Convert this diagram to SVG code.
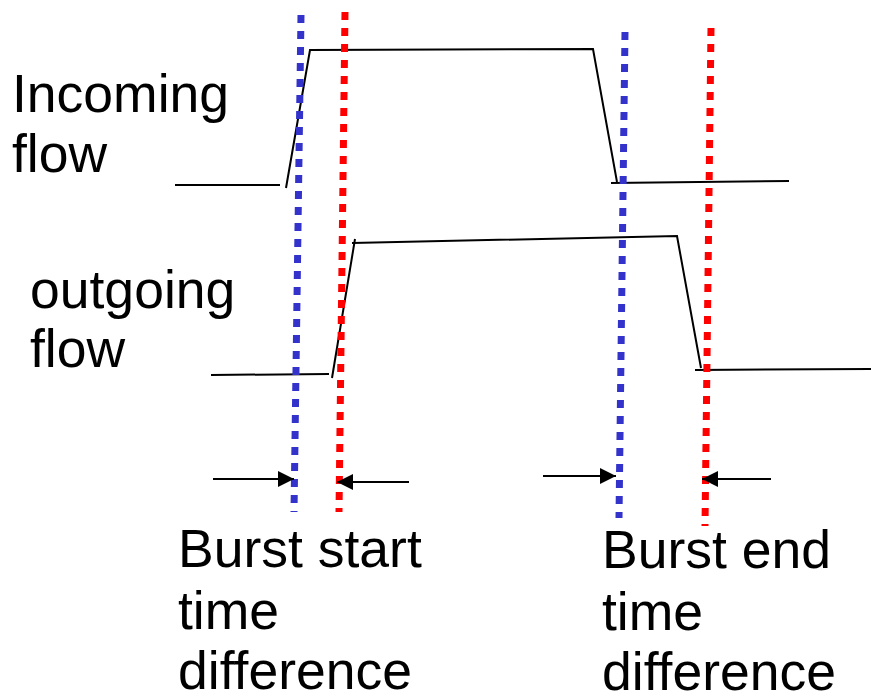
<svg xmlns="http://www.w3.org/2000/svg" width="871" height="698" viewBox="0 0 871 698">
<defs>
<style>
.t{font-family:"Liberation Sans",Arial,sans-serif;font-size:53.5px;fill:#000}
.w{fill:none;stroke:#000;stroke-width:2}
.b{stroke:#3333cc;stroke-width:7;stroke-dasharray:8 8;fill:none}
.r{stroke:#ff0000;stroke-width:7;stroke-dasharray:8 8;fill:none}
.a{stroke:#000;stroke-width:2;fill:none;marker-end:url(#ah)}
</style>
<marker id="ah" viewBox="0 0 16 16" refX="16" refY="8" markerWidth="16" markerHeight="16" markerUnits="userSpaceOnUse" orient="auto">
<path d="M0,0 L16,8 L0,16 Z" fill="#000"/>
</marker>
</defs>
<g id="incoming-label"><text class="t" x="12" y="112">Incoming</text><text class="t" x="12" y="172">flow</text></g>
<g id="outgoing-label"><text class="t" x="30" y="308">outgoing</text><text class="t" x="30" y="367">flow</text></g>
<g id="start-label"><text class="t" x="178" y="567">Burst start</text><text class="t" x="178" y="629">time</text><text class="t" x="178" y="689">difference</text></g>
<g id="end-label"><text class="t" x="602" y="568">Burst end</text><text class="t" x="602" y="630">time</text><text class="t" x="602" y="690">difference</text></g>
<g id="incoming-waveform">
<polyline class="w" points="175,185 280,185"/>
<polyline class="w" points="286,188 310,50 593,49 617,182"/>
<polyline class="w" points="611,183 789,181"/>
</g>
<g id="outgoing-waveform">
<polyline class="w" points="211,375 329,374"/>
<polyline class="w" points="332,378 355,239"/>
<polyline class="w" points="352,243 677,236 701,368"/>
<polyline class="w" points="695,370 871,369"/>
</g>
<g id="markers">
<line class="b" x1="301" y1="15" x2="294" y2="512"/>
<line class="r" x1="345" y1="12" x2="339" y2="512"/>
<line class="b" x1="625" y1="32" x2="619" y2="518"/>
<line class="r" x1="711" y1="28" x2="705" y2="526"/>
</g>
<g id="connectors">
<line class="a" x1="213" y1="479" x2="294" y2="479"/>
<line class="a" x1="409" y1="482" x2="337" y2="482"/>
<line class="a" x1="543" y1="476" x2="616" y2="476"/>
<line class="a" x1="771" y1="479" x2="702" y2="479"/>
</g>
</svg>
